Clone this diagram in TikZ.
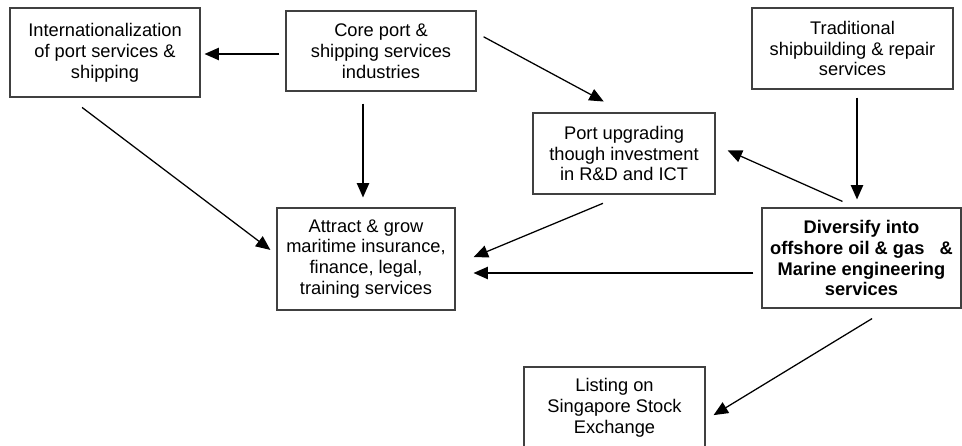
\documentclass[tikz,border=0pt]{standalone}
\usepackage{fontspec}
\setmainfont{Liberation Sans}
\usetikzlibrary{arrows.meta,calc}

\begin{document}
\begin{tikzpicture}[font=\fontsize{13}{14.9}\selectfont, >={Triangle[length=0.36cm,width=0.31cm]},
  box/.style={draw=black!75, line width=0.8pt, align=center, inner sep=2pt},
  link/.style={->, line width=0.9pt}]
\useasboundingbox (0,0) rectangle (24.05,-11.15);
% boxes
\node[box, minimum width=4.75cm, minimum height=2.225cm] (intl) at (2.625,-1.3125) {Internationalization\\ of port services \&\\ shipping};
\node[box, minimum width=4.75cm, minimum height=2.0cm] (core) at (9.525,-1.275) {Core port \&\\ shipping services\\ industries};
\node[box, minimum width=5.025cm, minimum height=2.025cm] (trad) at (21.3125,-1.2125) {Traditional\\ shipbuilding \& repair\\ services};
\node[box, minimum width=4.55cm, minimum height=2.025cm] (port) at (15.6,-3.8375) {Port upgrading\\ though investment\\ in R\&D and ICT};
\node[box, minimum width=4.45cm, minimum height=2.55cm] (attract) at (9.15,-6.475) {Attract \& grow\\ maritime insurance,\\ finance, legal,\\ training services};
\node[box, minimum width=4.975cm, minimum height=2.5cm, font=\fontsize{13}{14.9}\selectfont\bfseries] (div) at (21.5375,-6.45) {Diversify into\\ offshore oil \& gas\ \ \ \&\\ Marine engineering\\ services};
\node[box, minimum width=4.525cm, minimum height=2.025cm] (list) at (15.3625,-10.1875) {Listing on\\ Singapore Stock\\ Exchange};
% links
\draw[link, shorten <=0.15cm, shorten >=0.1cm] ([yshift=-0.075cm]core.west) -- ([yshift=-0.075cm]core.west -| intl.east);
\draw[link, shorten <=0.3cm, shorten >=0.25cm] ([xshift=-0.075cm]attract.north |- core.south) -- ([xshift=-0.075cm]attract.north);
\draw[link, shorten <=0.2cm, shorten >=0.575cm] ([yshift=0.45cm]core.east) -- (port.north);
\draw[link, shorten <=0.41cm, shorten >=0.19cm] ([xshift=-0.9cm]intl.south) -- ([yshift=0.1125cm]attract.west);
\draw[link, shorten <=0.2cm, shorten >=0.2cm] ([xshift=0.1125cm]trad.south) -- ([xshift=0.1125cm]trad.south |- div.north);
\draw[link, shorten <=0.37cm, shorten >=0.33cm] ([xshift=-0.1375cm]div.north) -- ([yshift=0.2125cm]port.east);
\draw[link, shorten <=0.57cm, shorten >=0.49cm] (port.south) -- ([yshift=-0.14cm]attract.east);
\draw[link, shorten <=0.2cm, shorten >=0.45cm] ([yshift=-0.375cm]div.west) -- ([yshift=-0.375cm]div.west -| attract.east);
\draw[link, shorten <=0.48cm, shorten >=0.235cm] ([xshift=0.675cm]div.south) -- ([yshift=-0.3125cm]list.east);
\end{tikzpicture}
\end{document}
